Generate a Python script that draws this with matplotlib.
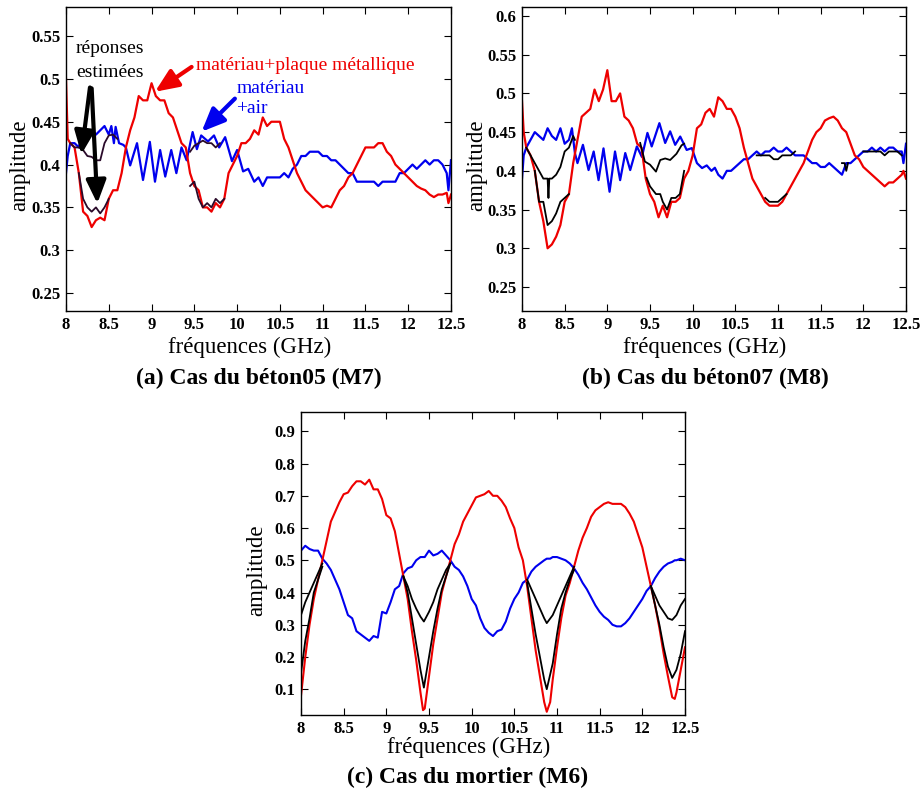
import numpy as np, matplotlib; matplotlib.use("Agg")
import matplotlib.pyplot as plt

plt.rcParams['font.family'] = ['Liberation Serif', 'DejaVu Serif']

# --- (a) béton05 (M7) ---
f_a = [8.0, 8.02, 8.05, 8.1, 8.15, 8.2, 8.25, 8.3, 8.35, 8.4, 8.45, 8.5, 8.55, 8.6, 8.65, 8.7, 8.75, 8.8, 8.85, 8.9,
       8.95, 9.0, 9.05, 9.1, 9.15, 9.2, 9.25, 9.3, 9.35, 9.4, 9.45, 9.5, 9.55, 9.6, 9.65, 9.7, 9.75, 9.8, 9.85, 9.9,
       9.95, 10.0, 10.05, 10.1, 10.15, 10.2, 10.25, 10.3, 10.35, 10.4, 10.45, 10.5, 10.55, 10.6, 10.65, 10.7, 10.75,
       10.8, 10.85, 10.9, 10.95, 11.0, 11.05, 11.1, 11.15, 11.2, 11.25, 11.3, 11.35, 11.4, 11.45, 11.5, 11.55, 11.6,
       11.65, 11.7, 11.75, 11.8, 11.85, 11.9, 11.95, 12.0, 12.05, 12.1, 12.15, 12.2, 12.25, 12.3, 12.35, 12.4, 12.45,
       12.47, 12.5]
red_a = [0.50, 0.43, 0.425, 0.42, 0.39, 0.345, 0.34, 0.327, 0.335, 0.338, 0.335, 0.36, 0.37, 0.37, 0.39, 0.42, 0.44,
         0.455, 0.48, 0.475, 0.475, 0.495, 0.48, 0.475, 0.475, 0.46, 0.455, 0.44, 0.425, 0.42, 0.39, 0.375, 0.37, 0.35,
         0.35, 0.345, 0.355, 0.35, 0.36, 0.39, 0.40, 0.41, 0.425, 0.425, 0.43, 0.44, 0.435, 0.455, 0.445, 0.45, 0.45,
         0.45, 0.43, 0.42, 0.405, 0.39, 0.38, 0.37, 0.365, 0.36, 0.355, 0.35, 0.352, 0.35, 0.36, 0.37, 0.375, 0.385,
         0.39, 0.40, 0.41, 0.42, 0.42, 0.42, 0.425, 0.425, 0.415, 0.41, 0.40, 0.395, 0.39, 0.385, 0.38, 0.375, 0.372,
         0.37, 0.365, 0.362, 0.365, 0.365, 0.367, 0.355, 0.365]
fb_a = [8.0, 8.02, 8.05, 8.1, 8.15, 8.2, 8.25, 8.3, 8.35, 8.4, 8.45, 8.5, 8.53, 8.56, 8.58, 8.62, 8.67, 8.7, 8.75,
        8.83, 8.9, 8.98, 9.04, 9.1, 9.16, 9.23, 9.29, 9.35, 9.41, 9.48, 9.53, 9.58, 9.66, 9.73, 9.79, 9.86, 9.94,
        10.0, 10.07, 10.13, 10.2, 10.25, 10.3, 10.35, 10.4, 10.45, 10.5, 10.55, 10.6, 10.65, 10.7, 10.75, 10.8,
        10.85, 10.9, 10.95, 11.0, 11.05, 11.1, 11.15, 11.2, 11.25, 11.3, 11.35, 11.4, 11.45, 11.5, 11.55, 11.6,
        11.65, 11.7, 11.75, 11.8, 11.85, 11.9, 11.95, 12.0, 12.05, 12.1, 12.15, 12.2, 12.25, 12.3, 12.35, 12.4,
        12.45, 12.47, 12.5]
blue_a = [0.39, 0.41, 0.425, 0.425, 0.42, 0.44, 0.435, 0.44, 0.435, 0.44, 0.445, 0.435, 0.445, 0.425, 0.444, 0.425,
          0.423, 0.42, 0.399, 0.425, 0.382, 0.4265, 0.380, 0.417, 0.386, 0.417, 0.39, 0.42, 0.405, 0.438, 0.418,
          0.434, 0.427, 0.434, 0.42, 0.432, 0.404, 0.417, 0.392, 0.395, 0.38, 0.385, 0.375, 0.385, 0.385, 0.385,
          0.385, 0.39, 0.385, 0.395, 0.40, 0.41, 0.41, 0.415, 0.415, 0.415, 0.41, 0.41, 0.405, 0.405, 0.40, 0.395,
          0.39, 0.39, 0.38, 0.38, 0.38, 0.38, 0.38, 0.375, 0.38, 0.38, 0.38, 0.38, 0.39, 0.39, 0.395, 0.40, 0.395,
          0.40, 0.405, 0.40, 0.405, 0.405, 0.40, 0.39, 0.37, 0.405]
# réponses estimées (seulement là où elles se détachent)
blk_a_f = [[8.05, 8.1, 8.15, 8.2, 8.25, 8.3, 8.35, 8.4, 8.45, 8.5, 8.55, 8.6],
           [8.15, 8.2, 8.25, 8.3, 8.35, 8.4, 8.45, 8.5],
           [9.45, 9.5, 9.55, 9.6, 9.65, 9.7, 9.75, 9.8],
           [9.45, 9.5, 9.55, 9.6, 9.65, 9.7, 9.75, 9.8, 9.85]]
blk_a = [[0.425, 0.42, 0.42, 0.417, 0.41, 0.409, 0.405, 0.405, 0.425, 0.434, 0.435, 0.43],
         [0.39, 0.36, 0.35, 0.345, 0.35, 0.343, 0.35, 0.36],
         [0.415, 0.422, 0.425, 0.428, 0.425, 0.425, 0.42, 0.425],
         [0.375, 0.38, 0.36, 0.35, 0.355, 0.35, 0.36, 0.355, 0.36]]

# --- (b) béton07 (M8) ---
f_b = f_a
red_b = [0.49, 0.45, 0.43, 0.42, 0.40, 0.36, 0.335, 0.30, 0.305, 0.315, 0.33, 0.36, 0.37, 0.41, 0.44, 0.47, 0.475,
         0.48, 0.505, 0.49, 0.505, 0.53, 0.49, 0.49, 0.50, 0.47, 0.465, 0.455, 0.435, 0.43, 0.39, 0.37, 0.36, 0.34,
         0.355, 0.34, 0.36, 0.36, 0.365, 0.39, 0.40, 0.42, 0.455, 0.46, 0.475, 0.48, 0.47, 0.495, 0.49, 0.48, 0.48,
         0.47, 0.455, 0.43, 0.41, 0.39, 0.38, 0.37, 0.36, 0.355, 0.355, 0.355, 0.36, 0.37, 0.38, 0.39, 0.40, 0.41,
         0.425, 0.44, 0.45, 0.455, 0.465, 0.468, 0.47, 0.465, 0.455, 0.45, 0.435, 0.42, 0.415, 0.405, 0.40, 0.395,
         0.39, 0.385, 0.38, 0.385, 0.385, 0.39, 0.395, 0.40, 0.39]
fb_b = [8.0, 8.02, 8.05, 8.1, 8.15, 8.2, 8.25, 8.3, 8.35, 8.4, 8.45, 8.5, 8.55, 8.585, 8.62, 8.65, 8.714, 8.78,
        8.84, 8.897, 8.955, 9.026, 9.09, 9.15, 9.21, 9.268, 9.346, 9.405, 9.47, 9.52, 9.61, 9.678, 9.736, 9.795,
        9.854, 9.93, 9.99, 10.05, 10.11, 10.165, 10.22, 10.26, 10.3, 10.35, 10.4, 10.45, 10.5, 10.55, 10.6, 10.65,
        10.7, 10.75, 10.8, 10.85, 10.9, 10.95, 11.0, 11.05, 11.1, 11.15, 11.2, 11.25, 11.3, 11.35, 11.4, 11.45,
        11.5, 11.55, 11.6, 11.65, 11.7, 11.75, 11.8, 11.85, 11.9, 11.95, 12.0, 12.05, 12.1, 12.15, 12.2, 12.25,
        12.3, 12.35, 12.4, 12.45, 12.47, 12.5]
blue_b = [0.39, 0.42, 0.43, 0.44, 0.45, 0.445, 0.44, 0.455, 0.445, 0.44, 0.455, 0.435, 0.44, 0.455, 0.423, 0.41,
          0.4336, 0.401, 0.425, 0.388, 0.429, 0.373, 0.425, 0.388, 0.423, 0.401, 0.4315, 0.418, 0.449, 0.4315,
          0.4616, 0.436, 0.451, 0.4336, 0.4443, 0.427, 0.4294, 0.41, 0.4036, 0.407, 0.40, 0.404, 0.395, 0.39, 0.40,
          0.40, 0.405, 0.41, 0.415, 0.415, 0.42, 0.425, 0.42, 0.425, 0.425, 0.43, 0.425, 0.425, 0.43, 0.425, 0.42,
          0.42, 0.42, 0.415, 0.41, 0.41, 0.405, 0.405, 0.41, 0.405, 0.40, 0.395, 0.41, 0.41, 0.415, 0.42, 0.425,
          0.425, 0.43, 0.425, 0.43, 0.425, 0.43, 0.43, 0.425, 0.425, 0.41, 0.435]
blk_b_f = [[8.05, 8.1, 8.15, 8.2, 8.25, 8.3, 8.31, 8.32, 8.35, 8.4, 8.45, 8.5, 8.55, 8.6, 8.62],
           [8.15, 8.2, 8.25, 8.3, 8.35, 8.4, 8.45, 8.5, 8.55],
           [9.385, 9.44, 9.5, 9.57, 9.62, 9.678, 9.736, 9.81, 9.87, 9.9],
           [9.46, 9.5, 9.57, 9.62, 9.65, 9.7, 9.75, 9.8, 9.85, 9.9],
           [10.75, 10.8, 10.85, 10.9, 10.95, 11.0, 11.05, 11.1, 11.15, 11.2],
           [10.85, 10.9, 10.95, 11.0, 11.05, 11.1],
           [11.75, 11.78, 11.8, 11.82],
           [12.0, 12.05, 12.1, 12.15, 12.2, 12.25, 12.3, 12.35, 12.4, 12.45]]
blk_b = [[0.43, 0.42, 0.41, 0.40, 0.39, 0.39, 0.365, 0.39, 0.39, 0.395, 0.405, 0.425, 0.43, 0.445, 0.44],
         [0.40, 0.36, 0.36, 0.33, 0.335, 0.345, 0.36, 0.365, 0.37],
         [0.436, 0.412, 0.408, 0.399, 0.414, 0.416, 0.414, 0.422, 0.433, 0.435],
         [0.391, 0.38, 0.37, 0.37, 0.36, 0.35, 0.365, 0.365, 0.37, 0.40],
         [0.42, 0.42, 0.42, 0.42, 0.415, 0.415, 0.42, 0.42, 0.42, 0.425],
         [0.365, 0.36, 0.36, 0.36, 0.365, 0.37],
         [0.41, 0.41, 0.40, 0.41],
         [0.425, 0.425, 0.425, 0.425, 0.425, 0.42, 0.425, 0.425, 0.425, 0.42]]

# --- (c) mortier (M6) ---
f_c = [8.0, 8.05, 8.1, 8.15, 8.2, 8.25, 8.3, 8.35, 8.4, 8.45, 8.5, 8.55, 8.6, 8.65, 8.7, 8.75, 8.8, 8.85, 8.9, 8.95,
       9.0, 9.05, 9.1, 9.15, 9.2, 9.25, 9.3, 9.35, 9.4, 9.43, 9.45, 9.5, 9.55, 9.6, 9.65, 9.7, 9.75, 9.8, 9.85, 9.9,
       9.95, 10.0, 10.05, 10.1, 10.15, 10.2, 10.25, 10.3, 10.35, 10.4, 10.45, 10.5, 10.55, 10.6, 10.65, 10.7, 10.75,
       10.8, 10.85, 10.88, 10.92, 10.95, 11.0, 11.05, 11.1, 11.15, 11.2, 11.25, 11.3, 11.35, 11.4, 11.45, 11.5, 11.55,
       11.6, 11.65, 11.7, 11.75, 11.8, 11.85, 11.9, 11.95, 12.0, 12.05, 12.1, 12.15, 12.2, 12.25, 12.3, 12.35, 12.38,
       12.4, 12.45, 12.5]
red_c = [0.08, 0.20, 0.30, 0.38, 0.44, 0.50, 0.56, 0.62, 0.65, 0.68, 0.705, 0.71, 0.73, 0.745, 0.745, 0.735, 0.75,
         0.72, 0.72, 0.69, 0.64, 0.63, 0.59, 0.52, 0.45, 0.38, 0.28, 0.19, 0.09, 0.035, 0.04, 0.14, 0.24, 0.32, 0.40,
         0.45, 0.50, 0.55, 0.58, 0.62, 0.645, 0.67, 0.695, 0.70, 0.705, 0.715, 0.70, 0.70, 0.685, 0.665, 0.63, 0.60,
         0.54, 0.50, 0.42, 0.32, 0.22, 0.14, 0.06, 0.03, 0.06, 0.13, 0.23, 0.32, 0.39, 0.43, 0.48, 0.53, 0.57, 0.60,
         0.635, 0.655, 0.665, 0.675, 0.68, 0.675, 0.675, 0.675, 0.665, 0.645, 0.62, 0.58, 0.54, 0.48, 0.42, 0.36,
         0.29, 0.21, 0.14, 0.075, 0.07, 0.09, 0.16, 0.23]
blue_c = [0.53, 0.545, 0.535, 0.53, 0.53, 0.505, 0.49, 0.47, 0.44, 0.41, 0.37, 0.33, 0.32, 0.28, 0.27, 0.26, 0.25,
          0.265, 0.26, 0.34, 0.335, 0.37, 0.41, 0.42, 0.46, 0.475, 0.48, 0.50, 0.51, 0.51, 0.51, 0.53, 0.515, 0.52,
          0.53, 0.515, 0.50, 0.48, 0.47, 0.45, 0.42, 0.38, 0.36, 0.32, 0.29, 0.275, 0.265, 0.28, 0.285, 0.31, 0.35,
          0.38, 0.40, 0.43, 0.44, 0.465, 0.48, 0.49, 0.50, 0.505, 0.505, 0.51, 0.51, 0.505, 0.50, 0.49, 0.475, 0.455,
          0.43, 0.41, 0.385, 0.36, 0.34, 0.325, 0.315, 0.30, 0.295, 0.295, 0.305, 0.32, 0.34, 0.36, 0.38, 0.405,
          0.42, 0.445, 0.465, 0.48, 0.49, 0.495, 0.50, 0.50, 0.505, 0.50]
blk_c_f = [[8.0, 8.05, 8.1, 8.15, 8.2, 8.25],
           [8.0, 8.05, 8.1, 8.15, 8.2, 8.25],
           [9.2, 9.25, 9.3, 9.35, 9.4, 9.44, 9.5, 9.55, 9.6, 9.65, 9.7, 9.75],
           [9.2, 9.25, 9.3, 9.35, 9.4, 9.44, 9.5, 9.55, 9.6, 9.65, 9.7, 9.75],
           [10.65, 10.7, 10.75, 10.8, 10.85, 10.88, 10.95, 11.0, 11.05, 11.1, 11.15, 11.2],
           [10.65, 10.7, 10.75, 10.8, 10.85, 10.88, 10.95, 11.0, 11.05, 11.1, 11.15, 11.2],
           [12.1, 12.15, 12.2, 12.25, 12.3, 12.35, 12.4, 12.45, 12.5],
           [12.1, 12.15, 12.2, 12.25, 12.3, 12.35, 12.4, 12.45, 12.5]]
blk_c = [[0.33, 0.37, 0.40, 0.43, 0.46, 0.49],
         [0.15, 0.25, 0.32, 0.40, 0.44, 0.48],
         [0.45, 0.42, 0.38, 0.35, 0.325, 0.31, 0.34, 0.37, 0.41, 0.44, 0.47, 0.49],
         [0.45, 0.40, 0.32, 0.24, 0.16, 0.105, 0.20, 0.28, 0.35, 0.41, 0.45, 0.49],
         [0.44, 0.41, 0.38, 0.35, 0.32, 0.305, 0.33, 0.36, 0.39, 0.42, 0.45, 0.48],
         [0.43, 0.35, 0.27, 0.20, 0.13, 0.10, 0.18, 0.27, 0.35, 0.40, 0.44, 0.47],
         [0.42, 0.39, 0.36, 0.34, 0.32, 0.315, 0.33, 0.36, 0.38],
         [0.42, 0.36, 0.30, 0.23, 0.17, 0.135, 0.16, 0.21, 0.28]]

xt = [8, 8.5, 9, 9.5, 10, 10.5, 11, 11.5, 12, 12.5]
yt_a = [0.25, 0.3, 0.35, 0.4, 0.45, 0.5, 0.55]
yt_b = [0.25, 0.3, 0.35, 0.4, 0.45, 0.5, 0.55, 0.6]
yt_c = [0.1, 0.2, 0.3, 0.4, 0.5, 0.6, 0.7, 0.8, 0.9]

fig = plt.figure(figsize=(9.22, 7.92), dpi=100)
W, H = 922, 792
def mk(x0, y0, x1, y1):   # pixels du coin haut-gauche / bas-droit
    return fig.add_axes([x0/W, 1-y1/H, (x1-x0)/W, (y1-y0)/H])

ax_a = mk(66, 7, 451, 311)
ax_b = mk(522, 7, 906, 311)
ax_c = mk(301, 412, 685, 715)

def panel(ax, f, red, fb, blue, bf, bv, yt, ylim, blk_col='k', lw=1.6):
    for ff, vv in zip(bf, bv):
        ax.plot(ff, vv, color=blk_col, lw=1.3, zorder=3)
    ax.plot(fb, blue, color='#0000ee', lw=lw, zorder=2)
    ax.plot(f, red, color='#ee0000', lw=lw, zorder=2)
    ax.set_xlim(8, 12.5); ax.set_ylim(*ylim)
    ax.set_xticks(xt, [f'{v:g}' for v in xt], fontweight='bold', fontsize=12)
    ax.set_yticks(yt, [f'{v:g}' for v in yt], fontweight='bold', fontsize=12)
    ax.tick_params(direction='in', top=True, right=True, length=5, width=0.8, pad=4)
    for s in ax.spines.values(): s.set_linewidth(1.0)

panel(ax_a, f_a, red_a, fb_a, blue_a, blk_a_f, blk_a, yt_a, (0.229, 0.584), blk_col='#2a0a2a')
panel(ax_b, f_b, red_b, fb_b, blue_b, blk_b_f, blk_b, yt_b, (0.219, 0.6116))
panel(ax_c, f_c, red_c, f_c, blue_c, blk_c_f, blk_c, yt_c, (0.02, 0.96), lw=1.5)

# annotations (a)
ax_a.text(8.51, 0.536, 'réponses', ha='center', va='center', fontsize=14)
ax_a.text(8.51, 0.508, 'estimées', ha='center', va='center', fontsize=14)
ax_a.text(10.80, 0.516, 'matériau+plaque métallique', ha='center', va='center', fontsize=14, color='#ee0000')
ax_a.text(9.99, 0.489, 'matériau', ha='left', va='center', fontsize=14, color='#0000ee')
ax_a.text(9.99, 0.466, '+air', ha='left', va='center', fontsize=14, color='#0000ee')
arr = dict(arrowstyle='-|>,head_length=0.7,head_width=0.3', lw=3, shrinkA=0, shrinkB=0, mutation_scale=20)
ax_a.annotate('', xy=(8.18, 0.412), xytext=(8.28, 0.490), arrowprops=dict(arr, color='k'))
ax_a.annotate('', xy=(8.366, 0.3545), xytext=(8.30, 0.489), arrowprops=dict(arr, color='k'))
ax_a.annotate('', xy=(9.04, 0.485), xytext=(9.468, 0.514), arrowprops=dict(arr, color='#ee0000'))
ax_a.annotate('', xy=(9.585, 0.4384), xytext=(9.974, 0.477), arrowprops=dict(arr, color='#0000ee'))

# libellés d'axes + légendes des sous-figures
for x, y in [(250, 347), (705, 347), (469, 747)]:
    fig.text(x/W, 1-y/H, 'fréquences (GHz)', ha='center', va='center', fontsize=16.5)
for x, y in [(20, 165), (477, 165), (257, 570)]:
    fig.text(x/W, 1-y/H, 'amplitude', ha='center', va='center', rotation=90, fontsize=16.5)
for x, y, t in [(259, 378, '(a) Cas du béton05 (M7)'), (705, 378, '(b) Cas du béton07 (M8)'),
                (468, 777, '(c) Cas du mortier (M6)')]:
    fig.text(x/W, 1-y/H, t, ha='center', va='center', fontsize=17, fontweight='bold')

fig.savefig('out.png', dpi=100)
